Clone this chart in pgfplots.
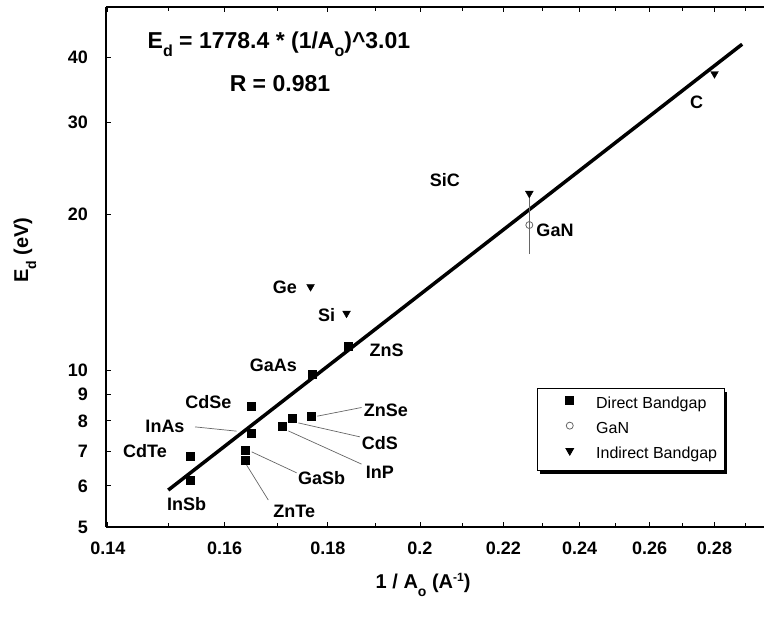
\documentclass[border=0pt]{standalone}
\usepackage{fontspec}
\setmainfont{Liberation Sans}
\usepackage{pgfplots}
\pgfplotsset{compat=1.18}
\usetikzlibrary{shadows}

\newcommand{\lab}{\bfseries\fontsize{18}{18}\selectfont}

\begin{document}
\begin{tikzpicture}
\begin{axis}[
  scale only axis, width=658pt, height=520pt,
  xmode=log, ymode=log,
  xmin=0.1397, xmax=0.2963, ymin=5, ymax=50,
  axis x line=box, axis y line=left,
  every outer y axis line/.append style={-},
  every outer x axis line/.append style={-},
  axis line style={line width=1.2pt},
  tick align=inside, major tick length=5pt, minor tick length=4pt,
  every tick/.style={black, line width=0.8pt},
  xtick={0.14,0.16,0.18,0.2,0.22,0.24,0.26,0.28},
  xticklabels={0.14,0.16,0.18,0.2,0.22,0.24,0.26,0.28},
  minor xtick={0.15,0.17,0.19,0.21,0.23,0.25,0.27,0.29},
  ytick={5,6,7,8,9,10,20,30,40},
  yticklabels={5,6,7,8,9,10,20,30,40},
  /pgf/number format/assume math mode=true,
  ticklabel style={font=\bfseries\fontsize{18}{18}\selectfont, inner sep=0pt},
  xticklabel style={yshift=-15pt},
  yticklabel style={xshift=-18pt},
  clip=false,
  legend cell align=left,
  legend style={at={(rel axis cs:0.655,0.2668)}, anchor=north west,
    draw=black, line width=0.8pt, fill=white,
    drop shadow={shadow xshift=3pt, shadow yshift=-3pt, fill=black, opacity=1},
    font=\fontsize{16}{16}\selectfont,
    inner xsep=5pt, inner ysep=6pt, row sep=5pt,
    nodes={text depth=4pt, text height=12pt, inner sep=2pt}},
  legend image code/.code={\path (0pt,0pt) (51pt,0pt);
    \draw[#1] plot coordinates {(27pt,4pt)};},
]
% fit line: Ed = 1778.4 (1/Ao)^3.01, end points
\addplot[black, line width=3.5pt, forget plot] coordinates {(0.15,5.888) (0.289,42.40)};

\addplot[only marks, mark=square*, mark size=4pt, black] coordinates {
  (0.1539,6.15) (0.1539,6.83) (0.1650,8.54) (0.1650,7.57) (0.1638,7.03)
  (0.1638,6.73) (0.1709,7.80) (0.1729,8.09) (0.1767,8.15) (0.1768,9.84)
  (0.1843,11.15)};
\addlegendentry{Direct Bandgap}

\addplot[only marks, mark=o, mark size=3.5pt, black!60, mark options={line width=0.8pt},
  error bars/.cd, y dir=both, y explicit,
  error bar style={black!60, line width=0.8pt},
  error mark options={black!60, mark size=4pt, line width=0.8pt}]
  coordinates {(0.2266,19.04) +- (0,2.0)};
\addlegendentry{GaN}

\addplot[only marks, mark=triangle*, mark size=4.5pt, black, mark options={rotate=180}]
  coordinates {(0.1839,12.88) (0.1765,14.49) (0.2266,21.9) (0.2800,37.2)};
\addlegendentry{Indirect Bandgap}

% equation
\node[font=\bfseries\fontsize{23}{23}\selectfont] at (rel axis cs:0.2629,0.929)
  {E\raisebox{-8pt}{\fontsize{16}{16}\selectfont d} = 1778.4 * (1/A\raisebox{-8pt}{\fontsize{16}{16}\selectfont o})\^{}3.01};
\node[font=\bfseries\fontsize{23}{23}\selectfont] at (rel axis cs:0.2644,0.852) {R = 0.981};

% labels
\node[font=\lab] at (rel axis cs:0.1226,0.0441) {InSb};
\node[font=\lab] at (rel axis cs:0.0593,0.1464) {CdTe};
\node[font=\lab] at (rel axis cs:0.0897,0.1939) {InAs};
\node[font=\lab] at (rel axis cs:0.1555,0.2405) {CdSe};
\node[font=\lab] at (rel axis cs:0.2543,0.3109) {GaAs};
\node[font=\lab] at (rel axis cs:0.4266,0.3397) {ZnS};
\node[font=\lab] at (rel axis cs:0.4255,0.2246) {ZnSe};
\node[font=\lab] at (rel axis cs:0.4164,0.1618) {CdS};
\node[font=\lab] at (rel axis cs:0.4164,0.1061) {InP};
\node[font=\lab] at (rel axis cs:0.3278,0.0935) {GaSb};
\node[font=\lab] at (rel axis cs:0.2862,0.0294) {ZnTe};
\node[font=\lab] at (rel axis cs:0.3354,0.4069) {Si};
\node[font=\lab] at (rel axis cs:0.5152,0.6674) {SiC};
\node[font=\lab] at (rel axis cs:0.6824,0.5701) {GaN};
\node[font=\lab] at (rel axis cs:0.2720,0.4612) {Ge};
\node[font=\lab] at (rel axis cs:0.8977,0.8163) {C};

% leader lines
\draw[black!60, line width=0.7pt] (rel axis cs:0.1353,0.1925) -- (rel axis cs:0.1985,0.1843);
\draw[black!60, line width=0.7pt] (rel axis cs:0.3211,0.2131) -- (rel axis cs:0.3884,0.2298);
\draw[black!60, line width=0.7pt] (rel axis cs:0.2923,0.2002) -- (rel axis cs:0.3860,0.1733);
\draw[black!60, line width=0.7pt] (rel axis cs:0.2771,0.1848) -- (rel axis cs:0.3884,0.1209);
\draw[black!60, line width=0.7pt] (rel axis cs:0.2214,0.1445) -- (rel axis cs:0.2897,0.1042);
\draw[black!60, line width=0.7pt] (rel axis cs:0.2138,0.1190) -- (rel axis cs:0.2467,0.0518);

% axis labels
\node[font=\bfseries\fontsize{20}{20}\selectfont] at (rel axis cs:0.482,-0.111)
  {1 / A\raisebox{-8pt}{\fontsize{14}{14}\selectfont o} (A\raisebox{7pt}{\fontsize{12}{12}\selectfont -1})};
\node[font=\bfseries\fontsize{20}{20}\selectfont, rotate=90] at (rel axis cs:-0.123,0.532)
  {E\raisebox{-8pt}{\fontsize{14}{14}\selectfont d} (eV)};
\end{axis}
\pgfresetboundingbox
\path[use as bounding box] ([xshift=-106pt,yshift=-90pt]current axis.south west)
  rectangle ([yshift=7pt]current axis.north east);
\end{tikzpicture}
\end{document}
